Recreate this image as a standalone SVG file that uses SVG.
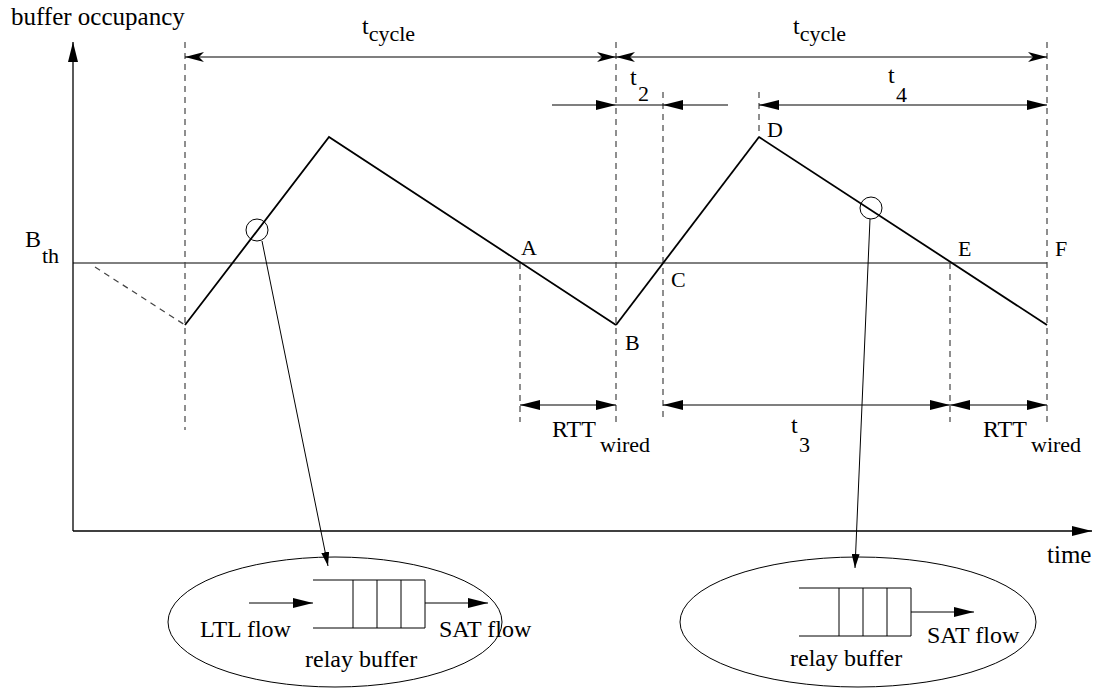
<svg xmlns="http://www.w3.org/2000/svg" width="1093" height="690" viewBox="0 0 1093 690">
  <style>
    text { font-family: "Liberation Serif", "Tinos", "Noto Serif", "DejaVu Serif", "Times New Roman", serif; fill: #000; }
    .lbl { font-size: 22px; }
    .big { font-size: 24px; }
    .axis { font-size: 25px; }
    .sub { font-size: 22px; }
    .ln { stroke: #000; stroke-width: 1.3; fill: none; }
    .thin { stroke: #000; stroke-width: 1; fill: none; }
    .dash { stroke: #444; stroke-width: 1.2; stroke-dasharray: 6 5; fill: none; }
    .curve { stroke: #000; stroke-width: 1.8; fill: none; stroke-linejoin: miter; }
    .dim { stroke: #000; stroke-width: 1.2; fill: none; }
  </style>
  <defs>
    <marker id="tri" markerUnits="userSpaceOnUse" markerWidth="20" markerHeight="10" refX="20" refY="5" orient="auto-start-reverse">
      <path d="M0,0 L20,5 L0,10 z" fill="#000"/>
    </marker>
    <marker id="barb" markerUnits="userSpaceOnUse" markerWidth="19" markerHeight="10" refX="19" refY="5" orient="auto-start-reverse">
      <path d="M0,0 L19,5 L0,10 L5,5 z" fill="#000"/>
    </marker>
    <marker id="small" markerUnits="userSpaceOnUse" markerWidth="14" markerHeight="8" refX="14" refY="4" orient="auto">
      <path d="M0,0 L14,4 L0,8 z" fill="#000"/>
    </marker>
  </defs>

  <!-- axes -->
  <g id="axes">
    <line class="ln" x1="73" y1="531" x2="73" y2="42" marker-end="url(#tri)"/>
    <line class="ln" x1="73" y1="531" x2="1092" y2="531" marker-end="url(#tri)"/>
    <text class="axis" x="11" y="25">buffer occupancy</text>
    <text class="axis" x="1047" y="563">time</text>
  </g>

  <!-- threshold -->
  <g id="threshold">
    <line class="thin" x1="73" y1="263" x2="1047" y2="263"/>
    <text class="big" x="25" y="247">B</text>
    <text class="sub" x="42" y="263">th</text>
  </g>

  <!-- guide lines -->
  <g id="guides">
    <line class="dash" x1="185" y1="42" x2="185" y2="430"/>
    <line class="dash" x1="520" y1="263" x2="520" y2="422"/>
    <line class="dash" x1="616" y1="42" x2="616" y2="422"/>
    <line class="dash" x1="663" y1="92" x2="663" y2="422"/>
    <line class="dash" x1="759" y1="92" x2="759" y2="137"/>
    <line class="dash" x1="950" y1="263" x2="950" y2="422"/>
    <line class="dash" x1="1047" y1="42" x2="1047" y2="422"/>
    <line class="dash" x1="95" y1="267" x2="185" y2="325"/>
  </g>

  <!-- occupancy trace -->
  <g id="trace">
    <polyline class="curve" points="185,325 329,137 616,325"/>
    <line class="curve" x1="616" y1="325" x2="759" y2="137" stroke-width="2.8"/>
    <line class="curve" x1="759" y1="137" x2="1047" y2="325"/>
    <text class="lbl" x="521" y="255">A</text>
    <text class="lbl" x="625" y="350">B</text>
    <text class="lbl" x="671" y="287">C</text>
    <text class="lbl" x="767" y="137">D</text>
    <text class="lbl" x="958" y="256">E</text>
    <text class="lbl" x="1055" y="256">F</text>
  </g>

  <!-- dimension arrows -->
  <g id="connectors">
    <line class="dim" x1="185" y1="57" x2="616" y2="57" marker-start="url(#barb)" marker-end="url(#barb)"/>
    <line class="dim" x1="616" y1="57" x2="1047" y2="57" marker-start="url(#barb)" marker-end="url(#barb)"/>
    <line class="dim" x1="552" y1="105" x2="616" y2="105" marker-end="url(#tri)"/>
    <line class="dim" x1="728" y1="105" x2="663" y2="105" marker-end="url(#tri)"/>
    <line class="dim" x1="616" y1="105" x2="663" y2="105"/>
    <line class="dim" x1="759" y1="105" x2="1047" y2="105" marker-start="url(#tri)" marker-end="url(#tri)"/>
    <line class="dim" x1="520" y1="405" x2="616" y2="405" marker-start="url(#tri)" marker-end="url(#tri)"/>
    <line class="dim" x1="663" y1="405" x2="950" y2="405" marker-start="url(#tri)" marker-end="url(#tri)"/>
    <line class="dim" x1="950" y1="405" x2="1047" y2="405" marker-start="url(#tri)" marker-end="url(#tri)"/>
    <!-- zoom pointers -->
    <circle class="thin" cx="257" cy="230" r="11"/>
    <circle class="thin" cx="871" cy="208" r="11"/>
    <line class="thin" x1="262" y1="241" x2="328" y2="566" marker-end="url(#small)"/>
    <line class="thin" x1="870" y1="219" x2="855" y2="568" marker-end="url(#small)"/>
  </g>

  <!-- dimension labels -->
  <g id="dim-labels">
    <text class="big" x="362" y="34">t<tspan class="sub" dy="7">cycle</tspan></text>
    <text class="big" x="793" y="34">t<tspan class="sub" dy="7">cycle</tspan></text>
    <text class="big" x="630" y="85">t</text>
    <text class="sub" x="638" y="101">2</text>
    <text class="big" x="888" y="83">t</text>
    <text class="sub" x="896" y="102">4</text>
    <text class="big" x="791" y="433">t</text>
    <text class="sub" x="799" y="452">3</text>
    <text class="big" x="552" y="437">RTT</text>
    <text class="sub" x="600" y="452">wired</text>
    <text class="big" x="983" y="437">RTT</text>
    <text class="sub" x="1031" y="452">wired</text>
  </g>

  <!-- relay buffer with LTL input -->
  <g id="buffer-left">
    <ellipse class="thin" cx="335" cy="622" rx="167" ry="65"/>
    <path class="thin" d="M313,580 H425 V628 H313 M353,580 V628 M377,580 V628 M401,580 V628"/>
    <line class="thin" x1="249" y1="603" x2="313" y2="603" marker-end="url(#tri)"/>
    <line class="thin" x1="425" y1="603" x2="488" y2="603" marker-end="url(#tri)"/>
    <text class="big" x="200" y="637">LTL flow</text>
    <text class="big" x="439" y="637">SAT flow</text>
    <text class="big" x="305" y="667">relay buffer</text>
  </g>

  <!-- relay buffer without input -->
  <g id="buffer-right">
    <ellipse class="thin" cx="858" cy="622" rx="178" ry="65"/>
    <path class="thin" d="M799,588 H911 V636 H799 M839,588 V636 M863,588 V636 M887,588 V636"/>
    <line class="thin" x1="911" y1="612" x2="974" y2="612" marker-end="url(#tri)"/>
    <text class="big" x="927" y="643">SAT flow</text>
    <text class="big" x="790" y="666">relay buffer</text>
  </g>
</svg>
